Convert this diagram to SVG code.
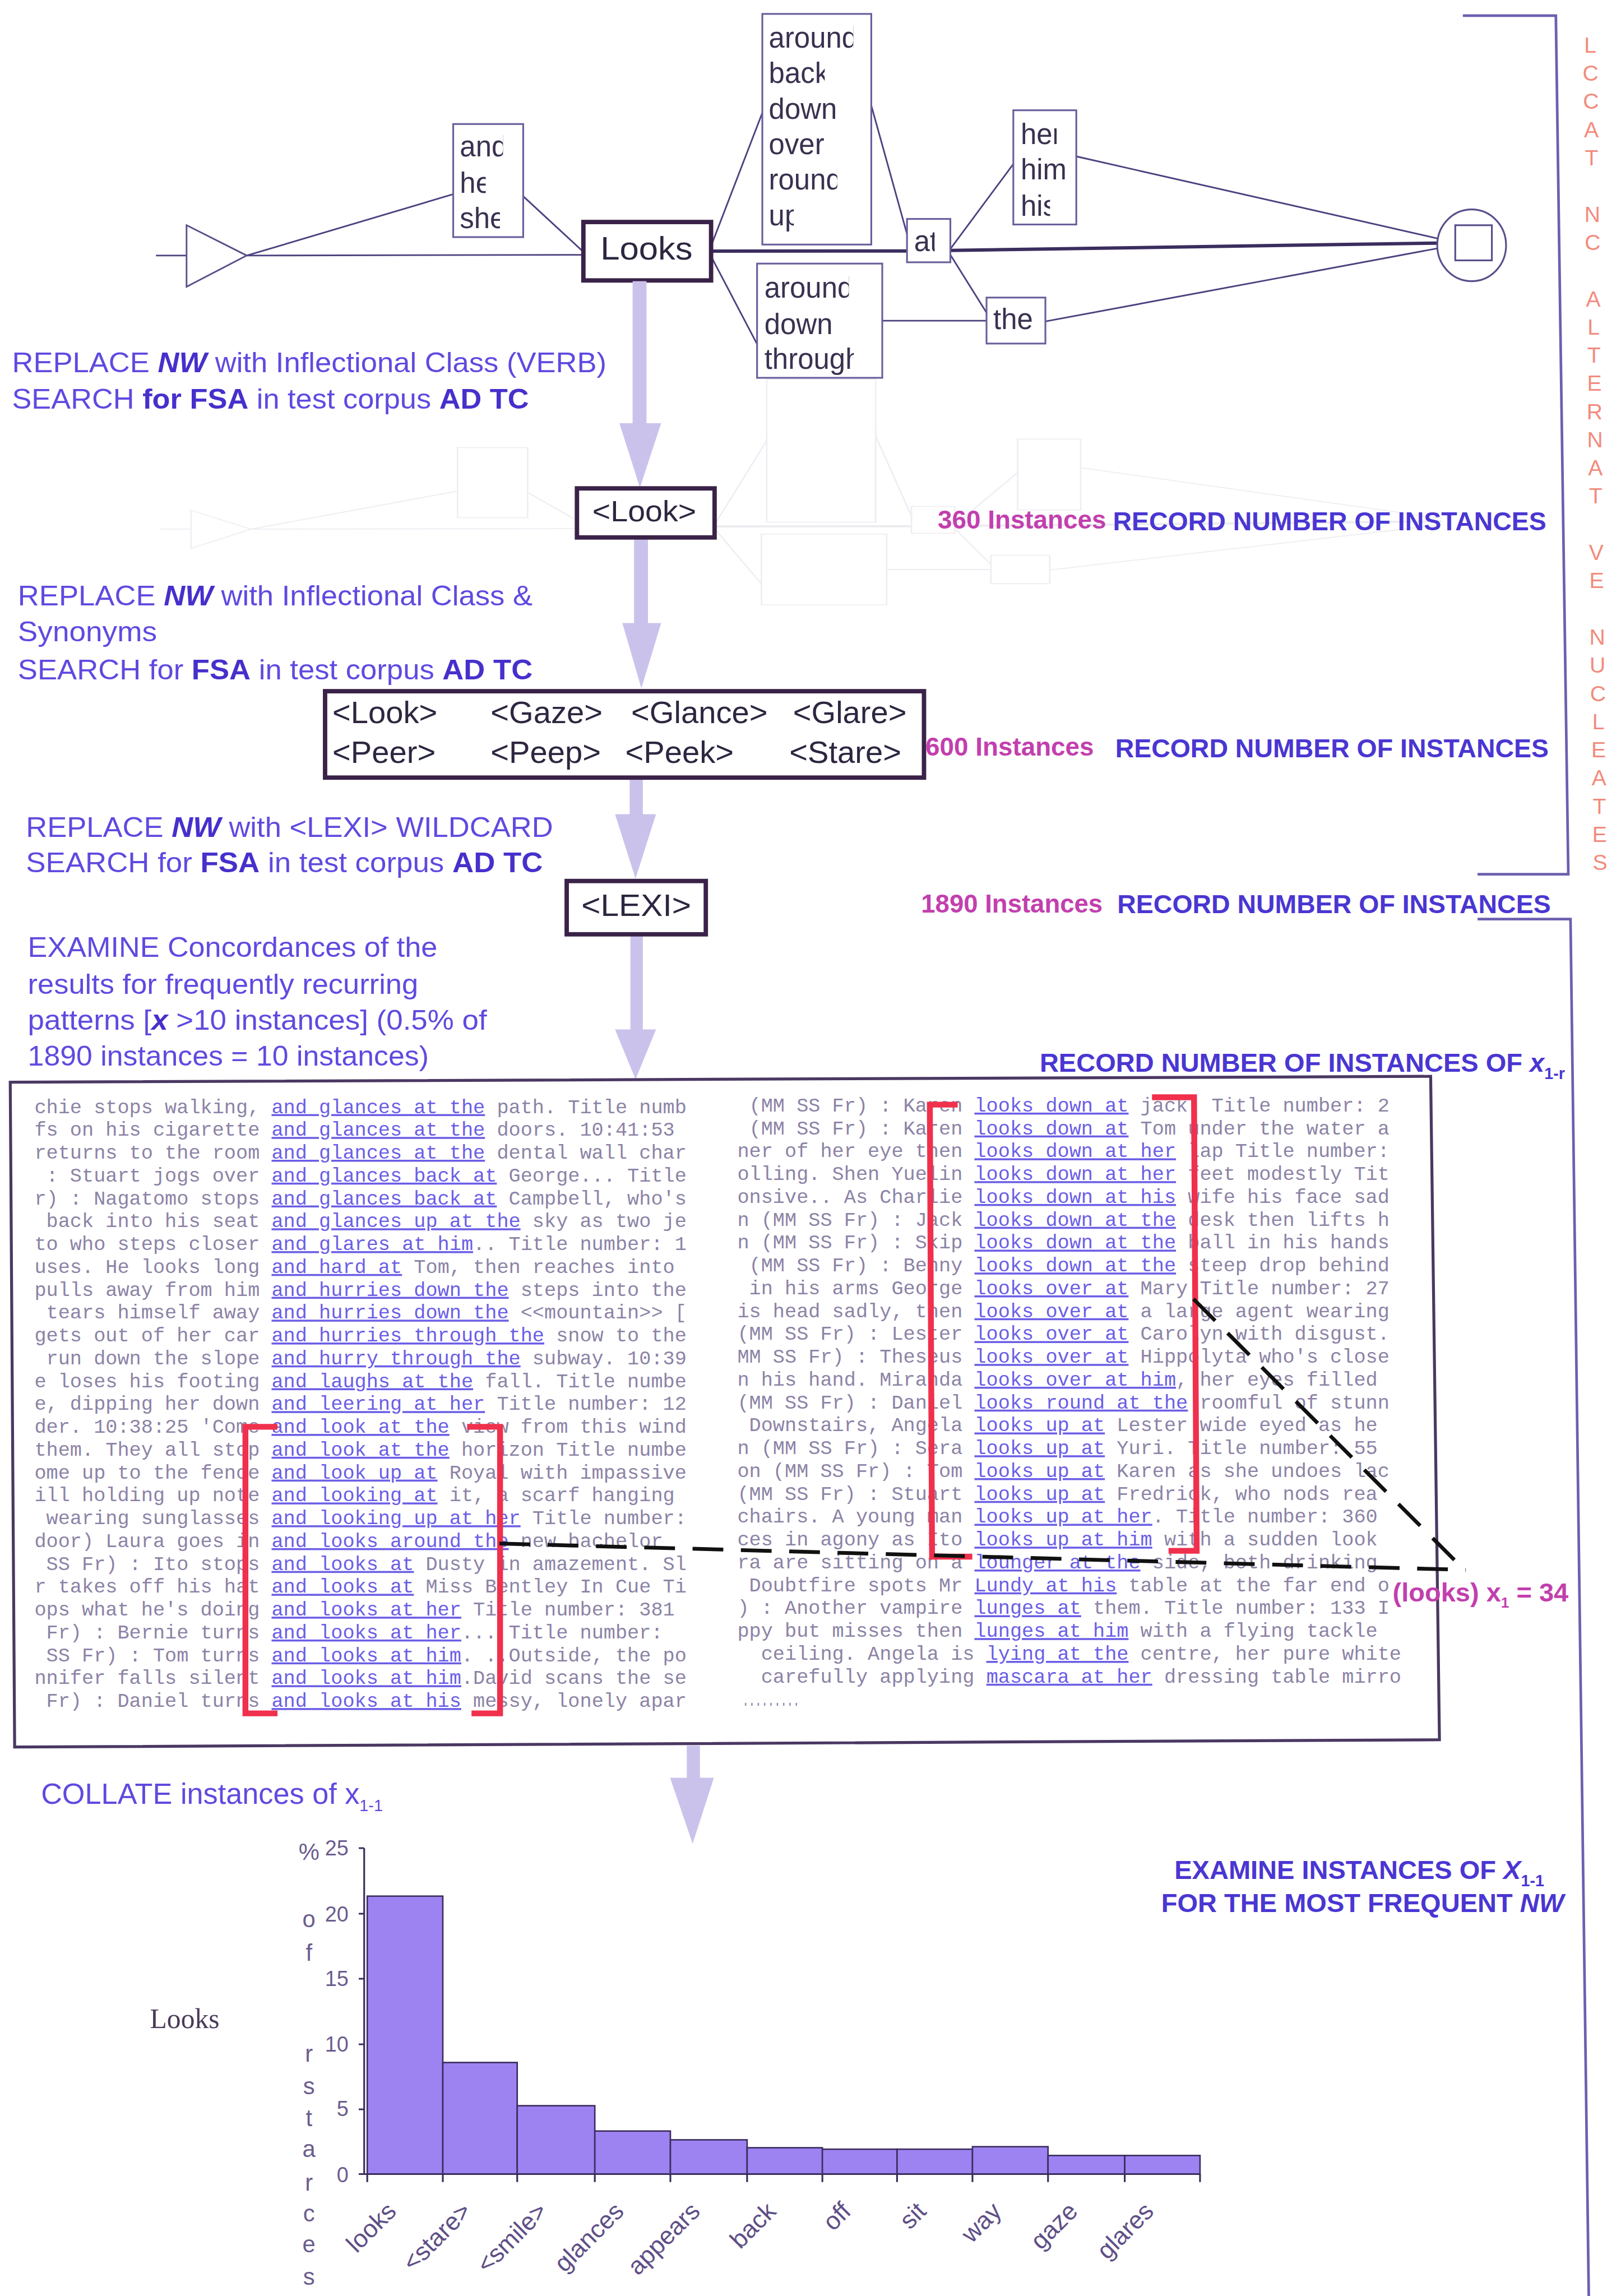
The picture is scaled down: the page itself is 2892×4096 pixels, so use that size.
<svg xmlns="http://www.w3.org/2000/svg" xmlns:xlink="http://www.w3.org/1999/xlink" width="2892" height="4096" viewBox="0 0 2892 4096">
<style>
.fl{fill:none;stroke:#4d4180;stroke-width:1.1}
.thick{stroke:#3b2d5e;stroke-width:2.3}
.fb{fill:#fff;stroke:#6a5e9c;stroke-width:1.2}
.fw{font-family:'Liberation Sans',Arial,sans-serif;font-size:19.5px;fill:#3a3150}
.nb{fill:#fff;stroke:#3a2248;stroke-width:3}
.nt{font-family:'Liberation Sans',Arial,sans-serif;fill:#2e2640}
.ar{fill:#cbc2ec}
.ins{font-family:'Liberation Sans',Arial,sans-serif;font-size:19px;fill:#5f4ae0}
.b{font-weight:bold;fill:#4630cc}
.bi{font-weight:bold;font-style:italic;fill:#4630cc}
.rec{font-family:'Liberation Sans',Arial,sans-serif;font-weight:bold;font-size:18px;fill:#4a36d2}
.cnt{font-family:'Liberation Sans',Arial,sans-serif;font-weight:bold;font-size:18px;fill:#c23fae}
.cc{font-family:'Liberation Mono','Courier New',monospace;font-size:13.5px;fill:#8c83a6;white-space:pre}
.k{fill:#6b5ee6;text-decoration:underline}
.vl{font-family:'Liberation Sans',Arial,sans-serif;font-size:15px;fill:#f28b7d;text-anchor:middle}
.red{fill:none;stroke:#f0304c;stroke-width:4}
.dash{fill:none;stroke:#111;stroke-width:2.6;stroke-dasharray:21 12}
.ax{fill:none;stroke:#3b2d5c;stroke-width:1.2}
.bar{fill:#9d82f2;stroke:#3b2d5c;stroke-width:1}
.tl{font-family:'Liberation Sans',Arial,sans-serif;font-size:14.5px;fill:#6b5d8e;text-anchor:end}
.yl{font-family:'Liberation Sans',Arial,sans-serif;font-size:16px;fill:#6b5d8e;text-anchor:middle}
.xl{font-family:'Liberation Sans',Arial,sans-serif;font-size:17px;fill:#5e4f86;text-anchor:end}
</style>
<defs>
<clipPath id="c-around1" clipPathUnits="userSpaceOnUse"><rect x="520" y="10" width="62.7" height="30"/></clipPath>
<clipPath id="c-back" clipPathUnits="userSpaceOnUse"><rect x="520" y="35" width="43.2" height="30"/></clipPath>
<clipPath id="c-round" clipPathUnits="userSpaceOnUse"><rect x="520" y="108" width="51.8" height="30"/></clipPath>
<clipPath id="c-up" clipPathUnits="userSpaceOnUse"><rect x="520" y="132" width="22.1" height="30"/></clipPath>
<clipPath id="c-around2" clipPathUnits="userSpaceOnUse"><rect x="517" y="182" width="62.7" height="28"/></clipPath>
<clipPath id="c-through" clipPathUnits="userSpaceOnUse"><rect x="517" y="230" width="66.1" height="28"/></clipPath>
<clipPath id="c-and" clipPathUnits="userSpaceOnUse"><rect x="309" y="85" width="34.5" height="28"/></clipPath>
<clipPath id="c-he" clipPathUnits="userSpaceOnUse"><rect x="309" y="110" width="22.7" height="28"/></clipPath>
<clipPath id="c-she" clipPathUnits="userSpaceOnUse"><rect x="309" y="134" width="32.4" height="28"/></clipPath>
<clipPath id="c-her" clipPathUnits="userSpaceOnUse"><rect x="692" y="76" width="29.6" height="28"/></clipPath>
<clipPath id="c-his" clipPathUnits="userSpaceOnUse"><rect x="692" y="125" width="25.1" height="28"/></clipPath>
<clipPath id="c-at" clipPathUnits="userSpaceOnUse"><rect x="619" y="150" width="19.3" height="29"/></clipPath>
</defs>
<rect width="2892" height="4096" fill="#fff"/>
<g transform="scale(2.6125)">

<!-- faint show-through of the first graph behind the <Look> step -->
<g id="ghost" opacity="0.09" transform="translate(3,361) scale(1,0.62) translate(0,-174)">
<use xlink:href="#edges"/>
<polygon points="127.4,153.8 168.5,174.5 127.4,195.8" fill="none" stroke="#4d4180"/>
<rect x="309.5" y="84.7" width="47.8" height="77.2" fill="none" stroke="#4d4180"/>
<rect x="520.6" y="9.5" width="74.4" height="157.5" fill="none" stroke="#4d4180"/>
<rect x="517" y="180" width="85.5" height="78" fill="none" stroke="#4d4180"/>
<rect x="619.4" y="149.5" width="29.6" height="29.6" fill="none" stroke="#4d4180"/>
<rect x="692" y="75.3" width="43" height="78" fill="none" stroke="#4d4180"/>
<rect x="673.7" y="203.2" width="40.2" height="31.4" fill="none" stroke="#4d4180"/>
</g>

<!-- top finite-state graph: connectors -->
<g id="edges" class="fl">
<path d="M106.5,174.5 H127.4"/>
<path d="M168.5,174.5 L398.4,174"/>
<path d="M168.5,174.5 L309.5,132.6"/>
<path d="M357.3,134 L398.4,172"/>
<path d="M485.6,168 L520.6,77"/>
<path d="M485.6,175 L517,235"/>
<path d="M595,72 L620,162"/>
<path d="M649,170 L692,112"/>
<path d="M649,174 L673.7,213.5"/>
<path d="M602.5,219 L673.7,219"/>
<path d="M735,106.8 L981.6,162.8"/>
<path d="M713.9,219.5 L981.6,169.6"/>
<path class="thick" d="M485.6,171.5 L619.4,171.4"/>
<path class="thick" d="M649,171 L981.6,166"/>
</g>

<!-- top finite-state graph: states and boxes -->
<g id="n-start"><polygon points="127.4,153.8 168.5,174.5 127.4,195.8" fill="#fff" stroke="#5a4e8a" stroke-width="1.1"/></g>
<g id="n-subj">
<rect class="fb" x="309.5" y="84.7" width="47.8" height="77.2"/>
<text class="fw" x="314" y="106.8" clip-path="url(#c-and)">and</text>
<text class="fw" x="314" y="131.8" clip-path="url(#c-he)">he</text>
<text class="fw" x="314" y="155.9" clip-path="url(#c-she)">she</text>
</g>
<g id="n-looks">
<rect class="nb" x="398.4" y="151.6" width="87.2" height="39.9"/>
<text class="nt" x="410" y="177.4" font-size="22" textLength="63" lengthAdjust="spacingAndGlyphs">Looks</text>
</g>
<g id="n-adv1">
<rect class="fb" x="520.6" y="9.5" width="74.4" height="157.5"/>
<text class="fw" x="525" y="32.7" clip-path="url(#c-around1)">around</text>
<text class="fw" x="525" y="56.8" clip-path="url(#c-back)">back</text>
<text class="fw" x="525" y="81">down</text>
<text class="fw" x="525" y="105.4">over</text>
<text class="fw" x="525" y="129.5" clip-path="url(#c-round)">round</text>
<text class="fw" x="525" y="153.8" clip-path="url(#c-up)">up</text>
</g>
<g id="n-adv2">
<rect class="fb" x="517" y="180" width="85.5" height="78"/>
<text class="fw" x="522" y="203.2" clip-path="url(#c-around2)">around</text>
<text class="fw" x="522" y="228.2">down</text>
<text class="fw" x="522" y="251.8" clip-path="url(#c-through)">through</text>
</g>
<g id="n-at">
<rect class="fb" x="619.4" y="149.5" width="29.6" height="29.6"/>
<text class="fw" x="624.2" y="171.4" clip-path="url(#c-at)">at</text>
</g>
<g id="n-pron">
<rect class="fb" x="692" y="75.3" width="43" height="78"/>
<text class="fw" x="697" y="98.2" clip-path="url(#c-her)">her</text>
<text class="fw" x="697" y="122.6">him</text>
<text class="fw" x="697" y="147.3" clip-path="url(#c-his)">his</text>
</g>
<g id="n-the">
<rect class="fb" x="673.7" y="203.2" width="40.2" height="31.4"/>
<text class="fw" x="678.3" y="224.8">the</text>
</g>
<g id="n-final">
<ellipse cx="1005" cy="167.5" rx="23.5" ry="24.5" fill="#fff" stroke="#5a4e8a" stroke-width="1.2"/>
<rect x="993.8" y="153.8" width="25" height="24" fill="none" stroke="#5a4e8a" stroke-width="1.2"/>
</g>

<!-- flow arrows between the steps -->
<g id="flow" class="ar">
<rect x="432" y="192" width="9.5" height="98"/><polygon points="423,289 451.5,289 437,333"/>
<rect x="433" y="367" width="9.5" height="59"/><polygon points="425,425.5 451.5,425.5 438,470"/>
<rect x="430" y="531" width="9" height="26"/><polygon points="420,556 448,556 434,600"/>
<rect x="430.5" y="638" width="8.5" height="66"/><polygon points="420,703 448,703 434,737"/>
<rect x="469" y="1192" width="9" height="23"/><polygon points="457.6,1214 487.5,1214 473,1259"/>
</g>

<!-- step nodes -->
<g id="n-look-class">
<rect class="nb" x="394" y="333.5" width="94" height="33.5"/>
<text class="nt" x="404.5" y="356" font-size="20" textLength="71" lengthAdjust="spacingAndGlyphs">&lt;Look&gt;</text>
</g>
<g id="n-synonyms">
<rect class="nb" x="222" y="472" width="409" height="59"/>
<g class="nt" font-size="21.5">
<text x="227" y="493.7">&lt;Look&gt;</text>
<text x="335" y="493.7">&lt;Gaze&gt;</text>
<text x="431" y="493.7">&lt;Glance&gt;</text>
<text x="541.5" y="493.7">&lt;Glare&gt;</text>
<text x="227" y="521">&lt;Peer&gt;</text>
<text x="335" y="521">&lt;Peep&gt;</text>
<text x="427" y="521">&lt;Peek&gt;</text>
<text x="539" y="521">&lt;Stare&gt;</text>
</g>
</g>
<g id="n-lexi">
<rect class="nb" x="387" y="601.6" width="95" height="36.4"/>
<text class="nt" x="397" y="625.3" font-size="21" textLength="75" lengthAdjust="spacingAndGlyphs">&lt;LEXI&gt;</text>
</g>

<!-- procedure instructions -->
<g id="instructions" class="ins">
<text x="8.2" y="254.3" textLength="406" lengthAdjust="spacingAndGlyphs">REPLACE  <tspan class="bi">NW</tspan> with Inflectional Class (VERB)</text>
<text x="8.2" y="279" textLength="353" lengthAdjust="spacingAndGlyphs">SEARCH <tspan class="b">for FSA</tspan> in test corpus <tspan class="b">AD TC</tspan></text>
<text x="12.2" y="413.5" textLength="351.5" lengthAdjust="spacingAndGlyphs">REPLACE  <tspan class="bi">NW</tspan> with Inflectional Class &amp;</text>
<text x="12.2" y="438" textLength="95" lengthAdjust="spacingAndGlyphs">Synonyms</text>
<text x="12.2" y="464" textLength="351.5" lengthAdjust="spacingAndGlyphs">SEARCH for <tspan class="b">FSA</tspan> in test corpus <tspan class="b">AD TC</tspan></text>
<text x="17.7" y="571.3" textLength="360" lengthAdjust="spacingAndGlyphs">REPLACE  <tspan class="bi">NW</tspan> with &lt;LEXI&gt; WILDCARD</text>
<text x="17.7" y="595.7" textLength="353" lengthAdjust="spacingAndGlyphs">SEARCH for <tspan class="b">FSA</tspan> in test corpus <tspan class="b">AD TC</tspan></text>
<text x="19" y="653.3" textLength="279.7" lengthAdjust="spacingAndGlyphs">EXAMINE Concordances of the</text>
<text x="19" y="678.8" textLength="266.6" lengthAdjust="spacingAndGlyphs">results for frequently recurring</text>
<text x="19" y="703" textLength="313.5" lengthAdjust="spacingAndGlyphs">patterns [<tspan class="bi">x</tspan> &gt;10 instances] (0.5% of</text>
<text x="19" y="727.7" textLength="273.8" lengthAdjust="spacingAndGlyphs">1890 instances = 10 instances)</text>
<text x="28" y="1231.7" font-size="20">COLLATE instances of x<tspan font-size="11" dy="5">1-1</tspan></text>
</g>

<!-- recorded counts -->
<g id="counts">
<text class="cnt" x="640.4" y="361" textLength="115" lengthAdjust="spacingAndGlyphs">360 Instances</text>
<text class="rec" x="760" y="362" textLength="296" lengthAdjust="spacingAndGlyphs">RECORD NUMBER OF INSTANCES</text>
<text class="cnt" x="632" y="516" textLength="115" lengthAdjust="spacingAndGlyphs">600 Instances</text>
<text class="rec" x="761.6" y="517" textLength="296" lengthAdjust="spacingAndGlyphs">RECORD NUMBER OF INSTANCES</text>
<text class="cnt" x="629" y="623" textLength="124" lengthAdjust="spacingAndGlyphs">1890 Instances</text>
<text class="rec" x="763" y="623.5" textLength="296" lengthAdjust="spacingAndGlyphs">RECORD NUMBER OF INSTANCES</text>
<text class="rec" x="710" y="732">RECORD NUMBER OF INSTANCES OF <tspan font-style="italic">x</tspan><tspan font-size="11" dy="5">1-r</tspan></text>
<text class="rec" x="802" y="1283">EXAMINE INSTANCES OF <tspan font-style="italic">X</tspan><tspan font-size="11" dy="5">1-1</tspan></text>
<text class="rec" x="793" y="1305.5" textLength="275" lengthAdjust="spacingAndGlyphs">FOR THE MOST FREQUENT <tspan font-style="italic">NW</tspan></text>
</g>

<!-- bracket spanning the iterative steps -->
<g id="side-bracket" fill="none" stroke="#6d5fb0" stroke-width="1.8">
<polyline points="999,10.7 1062.5,10.7 1071,597 1009,597"/>
<polyline points="1009,627.6 1072.5,627.6 1085,1570"/>
</g>
<text id="side-label" class="vl"><tspan x="1086" y="35.9">L</tspan><tspan x="1086.2" y="55.2">C</tspan><tspan x="1086.5" y="74.4">C</tspan><tspan x="1086.7" y="93.7">A</tspan><tspan x="1086.9" y="112.9">T</tspan><tspan x="1087.4" y="151.4">N</tspan><tspan x="1087.6" y="170.7">C</tspan><tspan x="1088.1" y="209.2">A</tspan><tspan x="1088.3" y="228.4">L</tspan><tspan x="1088.5" y="247.7">T</tspan><tspan x="1088.8" y="266.9">E</tspan><tspan x="1089" y="286.2">R</tspan><tspan x="1089.2" y="305.4">N</tspan><tspan x="1089.5" y="324.7">A</tspan><tspan x="1089.7" y="343.9">T</tspan><tspan x="1090.1" y="382.4">V</tspan><tspan x="1090.4" y="401.7">E</tspan><tspan x="1090.8" y="440.2">N</tspan><tspan x="1091" y="459.4">U</tspan><tspan x="1091.3" y="478.7">C</tspan><tspan x="1091.5" y="497.9">L</tspan><tspan x="1091.7" y="517.2">E</tspan><tspan x="1092" y="536.4">A</tspan><tspan x="1092.2" y="555.7">T</tspan><tspan x="1092.4" y="574.9">E</tspan><tspan x="1092.7" y="594.2">S</tspan></text>

<!-- concordance panel -->
<g id="concordance">
<polygon points="7,739 977,735 983,1188 10,1193" fill="#fff" stroke="#4a3862" stroke-width="2"/>
<g class="cc">
<text xml:space="preserve" x="23.5" y="760">chie stops walking, <tspan class="k">and glances at the</tspan> path. Title numb</text>
<text xml:space="preserve" x="23.5" y="775.6">fs on his cigarette <tspan class="k">and glances at the</tspan> doors. 10:41:53</text>
<text xml:space="preserve" x="23.5" y="791.2">returns to the room <tspan class="k">and glances at the</tspan> dental wall char</text>
<text xml:space="preserve" x="23.5" y="806.8">&#160;: Stuart jogs over <tspan class="k">and glances back at</tspan> George... Title</text>
<text xml:space="preserve" x="23.5" y="822.4">r) : Nagatomo stops <tspan class="k">and glances back at</tspan> Campbell, who's</text>
<text xml:space="preserve" x="23.5" y="838">&#160;back into his seat <tspan class="k">and glances up at the</tspan> sky as two je</text>
<text xml:space="preserve" x="23.5" y="853.6">to who steps closer <tspan class="k">and glares at him</tspan>.. Title number: 1</text>
<text xml:space="preserve" x="23.5" y="869.2">uses. He looks long <tspan class="k">and hard at</tspan> Tom, then reaches into</text>
<text xml:space="preserve" x="23.5" y="884.8">pulls away from him <tspan class="k">and hurries down the</tspan> steps into the</text>
<text xml:space="preserve" x="23.5" y="900.4">&#160;tears himself away <tspan class="k">and hurries down the</tspan> &lt;&lt;mountain&gt;&gt; [</text>
<text xml:space="preserve" x="23.5" y="916">gets out of her car <tspan class="k">and hurries through the</tspan> snow to the</text>
<text xml:space="preserve" x="23.5" y="931.6">&#160;run down the slope <tspan class="k">and hurry through the</tspan> subway. 10:39</text>
<text xml:space="preserve" x="23.5" y="947.2">e loses his footing <tspan class="k">and laughs at the</tspan> fall. Title numbe</text>
<text xml:space="preserve" x="23.5" y="962.8">e, dipping her down <tspan class="k">and leering at her</tspan> Title number: 12</text>
<text xml:space="preserve" x="23.5" y="978.4">der. 10:38:25 'Come <tspan class="k">and look at the</tspan> view from this wind</text>
<text xml:space="preserve" x="23.5" y="994">them. They all stop <tspan class="k">and look at the</tspan> horizon Title numbe</text>
<text xml:space="preserve" x="23.5" y="1009.6">ome up to the fence <tspan class="k">and look up at</tspan> Royal with impassive</text>
<text xml:space="preserve" x="23.5" y="1025.2">ill holding up note <tspan class="k">and looking at</tspan> it, a scarf hanging</text>
<text xml:space="preserve" x="23.5" y="1040.8">&#160;wearing sunglasses <tspan class="k">and looking up at her</tspan> Title number:</text>
<text xml:space="preserve" x="23.5" y="1056.4">door) Laura goes in <tspan class="k">and looks around the</tspan> new bachelor</text>
<text xml:space="preserve" x="23.5" y="1072">&#160;SS Fr) : Ito stops <tspan class="k">and looks at</tspan> Dusty in amazement. Sl</text>
<text xml:space="preserve" x="23.5" y="1087.6">r takes off his hat <tspan class="k">and looks at</tspan> Miss Bentley In Cue Ti</text>
<text xml:space="preserve" x="23.5" y="1103.2">ops what he's doing <tspan class="k">and looks at her</tspan> Title number: 381</text>
<text xml:space="preserve" x="23.5" y="1118.8">&#160;Fr) : Bernie turns <tspan class="k">and looks at her</tspan>... Title number:</text>
<text xml:space="preserve" x="23.5" y="1134.4">&#160;SS Fr) : Tom turns <tspan class="k">and looks at him</tspan>. ..Outside, the po</text>
<text xml:space="preserve" x="23.5" y="1150">nnifer falls silent <tspan class="k">and looks at him</tspan>.David scans the se</text>
<text xml:space="preserve" x="23.5" y="1165.6">&#160;Fr) : Daniel turns <tspan class="k">and looks at his</tspan> messy, lonely apar</text>
<text xml:space="preserve" x="503.5" y="759">&#160;(MM SS Fr) : Karen <tspan class="k">looks down at</tspan> jack. Title number: 2</text>
<text xml:space="preserve" x="503.5" y="774.6">&#160;(MM SS Fr) : Karen <tspan class="k">looks down at</tspan> Tom under the water a</text>
<text xml:space="preserve" x="503.5" y="790.2">ner of her eye then <tspan class="k">looks down at her</tspan> lap Title number:</text>
<text xml:space="preserve" x="503.5" y="805.8">olling. Shen Yuelin <tspan class="k">looks down at her</tspan> feet modestly Tit</text>
<text xml:space="preserve" x="503.5" y="821.4">onsive.. As Charlie <tspan class="k">looks down at his</tspan> wife his face sad</text>
<text xml:space="preserve" x="503.5" y="837">n (MM SS Fr) : Jack <tspan class="k">looks down at the</tspan> desk then lifts h</text>
<text xml:space="preserve" x="503.5" y="852.6">n (MM SS Fr) : Skip <tspan class="k">looks down at the</tspan> ball in his hands</text>
<text xml:space="preserve" x="503.5" y="868.2">&#160;(MM SS Fr) : Benny <tspan class="k">looks down at the</tspan> steep drop behind</text>
<text xml:space="preserve" x="503.5" y="883.8">&#160;in his arms George <tspan class="k">looks over at</tspan> Mary Title number: 27</text>
<text xml:space="preserve" x="503.5" y="899.4">is head sadly, then <tspan class="k">looks over at</tspan> a large agent wearing</text>
<text xml:space="preserve" x="503.5" y="915">(MM SS Fr) : Lester <tspan class="k">looks over at</tspan> Carolyn with disgust.</text>
<text xml:space="preserve" x="503.5" y="930.6">MM SS Fr) : Theseus <tspan class="k">looks over at</tspan> Hippolyta who's close</text>
<text xml:space="preserve" x="503.5" y="946.2">n his hand. Miranda <tspan class="k">looks over at him</tspan>, her eyes filled</text>
<text xml:space="preserve" x="503.5" y="961.8">(MM SS Fr) : Daniel <tspan class="k">looks round at the</tspan> roomful of stunn</text>
<text xml:space="preserve" x="503.5" y="977.4">&#160;Downstairs, Angela <tspan class="k">looks up at</tspan> Lester wide eyed as he</text>
<text xml:space="preserve" x="503.5" y="993">n (MM SS Fr) : Sera <tspan class="k">looks up at</tspan> Yuri. Title number: 55</text>
<text xml:space="preserve" x="503.5" y="1008.6">on (MM SS Fr) : Tom <tspan class="k">looks up at</tspan> Karen as she undoes lac</text>
<text xml:space="preserve" x="503.5" y="1024.2">(MM SS Fr) : Stuart <tspan class="k">looks up at</tspan> Fredrick, who nods rea</text>
<text xml:space="preserve" x="503.5" y="1039.8">chairs. A young man <tspan class="k">looks up at her</tspan>. Title number: 360</text>
<text xml:space="preserve" x="503.5" y="1055.4">ces in agony as Ito <tspan class="k">looks up at him</tspan> with a sudden look</text>
<text xml:space="preserve" x="503.5" y="1071">ra are sitting on a <tspan class="k">lounger at the</tspan> side, both drinking</text>
<text xml:space="preserve" x="503.5" y="1086.6">&#160;Doubtfire spots Mr <tspan class="k">Lundy at his</tspan> table at the far end o</text>
<text xml:space="preserve" x="503.5" y="1102.2">) : Another vampire <tspan class="k">lunges at</tspan> them. Title number: 133 I</text>
<text xml:space="preserve" x="503.5" y="1117.8">ppy but misses then <tspan class="k">lunges at him</tspan> with a flying tackle</text>
<text xml:space="preserve" x="503.5" y="1133.4">&#160;&#160;ceiling. Angela is <tspan class="k">lying at the</tspan> centre, her pure white</text>
<text xml:space="preserve" x="503.5" y="1149">&#160;&#160;carefully applying <tspan class="k">mascara at her</tspan> dressing table mirro</text>
<text x="507" y="1164.6" textLength="39" lengthAdjust="spacingAndGlyphs">.........</text>
</g>
<!-- highlighted keyword columns -->
<path class="red" d="M189.5,974.3 H167.6 V1170 H189.5"/>
<path class="red" d="M319,974.3 H341.5 V1170 H322"/>
<path class="red" d="M654,754.3 H635 L636.5,1063 H664"/>
<path class="red" d="M786.7,749.3 H815.4 L817.2,1059 H798"/>
<path class="dash" d="M341,1054 L1001,1072"/>
<path class="dash" d="M815,887 L1000,1072"/>
<text class="cnt" x="951" y="1093.7" font-size="17">(looks) x<tspan font-size="10" dy="4">1</tspan><tspan dy="-4"> = 34</tspan></text>
</g>

<!-- frequency chart -->
<g id="chart">
<text x="102.4" y="1385" font-family="'Liberation Serif','Times New Roman',serif" font-size="19" fill="#4a3a5a">Looks</text>
<g class="yl">
<text x="211" y="1270">%</text>
<text x="211" y="1316">o</text>
<text x="211" y="1339">f</text>
<text x="211" y="1408">r</text>
<text x="211" y="1430">s</text>
<text x="211" y="1452">t</text>
<text x="211" y="1473">a</text>
<text x="211" y="1496">r</text>
<text x="211" y="1517">c</text>
<text x="211" y="1538">e</text>
<text x="211" y="1560">s</text>
</g>
<g class="tl">
<text x="238" y="1267">25</text>
<text x="238" y="1312">20</text>
<text x="238" y="1356">15</text>
<text x="238" y="1401">10</text>
<text x="238" y="1445">5</text>
<text x="238" y="1490">0</text>
</g>
<g id="bars">
<rect class="bar" x="250.8" y="1294.8" width="51.6" height="189.8"/>
<rect class="bar" x="302.4" y="1408.4" width="50.8" height="76.2"/>
<rect class="bar" x="353.2" y="1437.9" width="53" height="46.7"/>
<rect class="bar" x="406.2" y="1455.2" width="51.6" height="29.4"/>
<rect class="bar" x="457.8" y="1461.2" width="52.4" height="23.4"/>
<rect class="bar" x="510.2" y="1466.6" width="51.4" height="18"/>
<rect class="bar" x="561.6" y="1467.6" width="51" height="17"/>
<rect class="bar" x="612.6" y="1467.6" width="51.5" height="17"/>
<rect class="bar" x="664.1" y="1465.9" width="51.6" height="18.7"/>
<rect class="bar" x="715.7" y="1471.9" width="52.4" height="12.7"/>
<rect class="bar" x="768.1" y="1471.9" width="51.4" height="12.7"/>
</g>
<path class="ax" d="M248.7,1262 V1484.6 H819.5 M245,1262 H248.7 M245,1306.8 H248.7 M245,1351.2 H248.7 M245,1396 H248.7 M245,1440.4 H248.7 M245,1484.6 H248.7 M250.8,1484.6 V1490 M302.4,1484.6 V1490 M353.2,1484.6 V1490 M406.2,1484.6 V1490 M457.8,1484.6 V1490 M510.2,1484.6 V1490 M561.6,1484.6 V1490 M612.6,1484.6 V1490 M664.1,1484.6 V1490 M715.7,1484.6 V1490 M768.1,1484.6 V1490 M819.5,1484.6 V1490"/>
<g class="xl">
<text transform="translate(271.6,1511) rotate(-45)">looks</text>
<text transform="translate(322.8,1511) rotate(-45)">&lt;stare&gt;</text>
<text transform="translate(374.7,1511) rotate(-45)">&lt;smile&gt;</text>
<text transform="translate(427,1511) rotate(-45)">glances</text>
<text transform="translate(479,1511) rotate(-45)">appears</text>
<text transform="translate(530.9,1511) rotate(-45)">back</text>
<text transform="translate(582.1,1511) rotate(-45)">off</text>
<text transform="translate(633.4,1511) rotate(-45)">sit</text>
<text transform="translate(684.9,1511) rotate(-45)">way</text>
<text transform="translate(736.9,1511) rotate(-45)">gaze</text>
<text transform="translate(788.8,1511) rotate(-45)">glares</text>
</g>
</g>
</g>
</svg>
